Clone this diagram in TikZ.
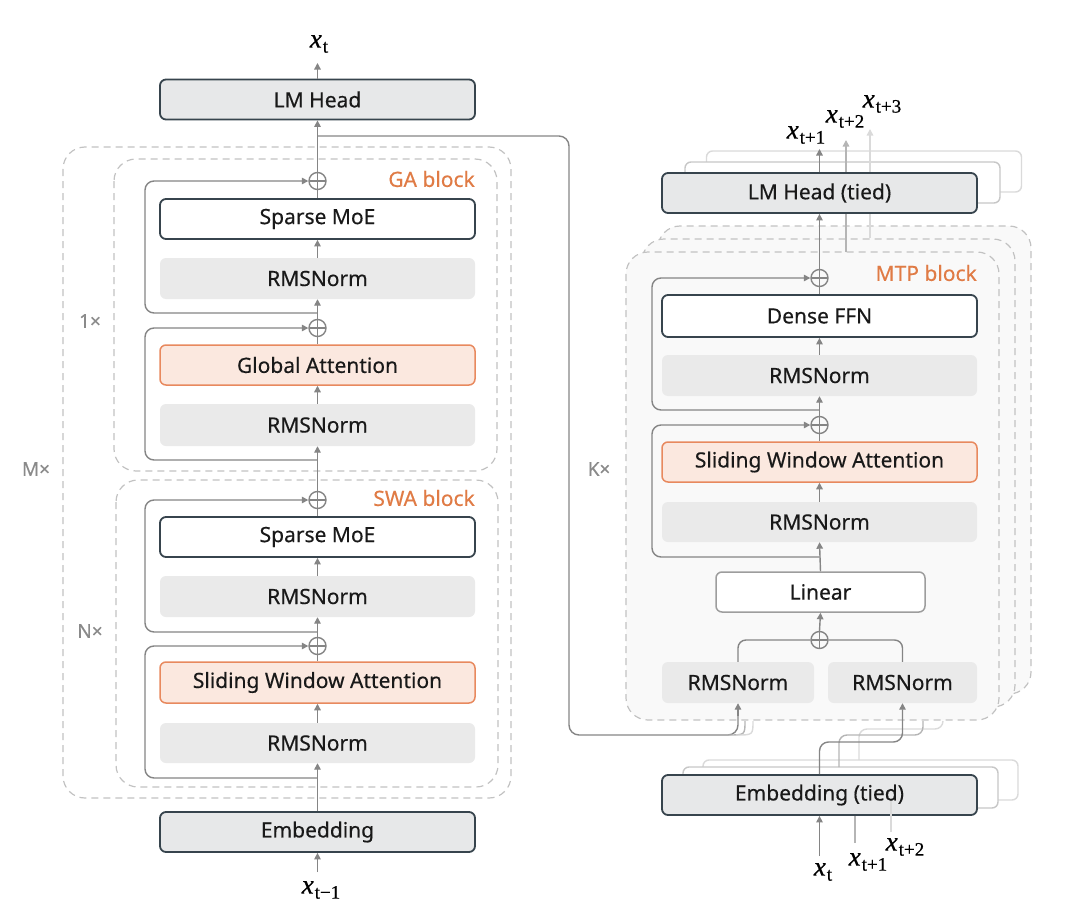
\documentclass[tikz,border=0pt]{standalone}
\usepackage[no-math]{fontspec}
\setmainfont[FakeBold=0.35]{Noto Sans}
\newfontfamily\mfont[FakeBold=0.6]{Liberation Serif}
\usetikzlibrary{arrows.meta}
\definecolor{dark}{HTML}{37444D}
\definecolor{boxgray}{HTML}{E7E8E9}
\definecolor{normgray}{HTML}{EAEAEA}
\definecolor{orb}{HTML}{E8895E}
\definecolor{orf}{HTML}{FBE8DF}
\definecolor{ortext}{HTML}{E07B45}
\definecolor{dashg}{HTML}{C2C2C2}
\definecolor{conng}{HTML}{858585}
\definecolor{labg}{HTML}{8A8A8A}
\definecolor{blockf}{HTML}{F9F9F9}
\definecolor{ghosta}{HTML}{B5B5B5}
\definecolor{ghostb}{HTML}{DADADA}
\newcommand\xlab[1]{\mbox{\mfont\fontsize{27}{30}\selectfont\itshape x\kern1pt\raisebox{-5pt}{\fontsize{19}{22}\selectfont\upshape #1}}}
\begin{document}
\begin{tikzpicture}[x=1pt,y=-1pt,
  box/.style={rounded corners=6pt, minimum width=315pt, minimum height=40pt, inner sep=0pt, font=\fontsize{21}{24}\selectfont, text=black!90},
  hbox/.style={box, draw=dark, fill=boxgray, line width=1.8pt},
  wbox/.style={box, draw=dark, fill=white, line width=1.8pt},
  nbox/.style={box, fill=normgray},
  obox/.style={box, draw=orb, fill=orf, line width=1.5pt},
  sbox/.style={box, draw=#1, fill=white, line width=1.4pt},
  blk/.style={draw=dashg, dash pattern=on 7pt off 5pt, line width=1.2pt, rounded corners=22pt},
  conn/.style={draw=conng, line width=1.4pt},
  arr/.style={conn, -{Triangle[length=6.5pt,width=6.5pt]}},
  ghost/.style={draw=#1, line width=1.4pt},
  garr/.style={draw=#1, line width=1.4pt, -{Triangle[length=6.5pt,width=6.5pt]}},
  plus/.style={circle, draw=conng, line width=1.4pt, minimum size=17pt, inner sep=0pt,
    path picture={\draw[conng, line width=1.4pt] (path picture bounding box.north) -- (path picture bounding box.south) (path picture bounding box.west) -- (path picture bounding box.east);}},
  blab/.style={font=\fontsize{21}{24}\selectfont, text=ortext, inner sep=0pt, anchor=east},
  rlab/.style={font=\fontsize{19}{22}\selectfont, text=labg, inner sep=0pt},
  mlab/.style={inner sep=0pt, text=black},
]
\useasboundingbox (0,0) rectangle (1080,918);

% ---------------- left column ----------------
\draw[blk] (63,147) rectangle (511,798);
\draw[blk, fill=white] (114,159) rectangle (497,471);
\draw[blk, fill=white] (116,480) rectangle (498,787);

\node[hbox] (lmhead) at (317.5,99.5) {LM Head};
\node[wbox] (moe1) at (317.5,219) {Sparse MoE};
\node[nbox, minimum height=41pt] (norm1) at (317.5,278.5) {RMSNorm};
\node[obox] (ga) at (317.5,365) {Global Attention};
\node[nbox, minimum height=42pt] (norm2) at (317.5,425) {RMSNorm};
\node[wbox] (moe2) at (317.5,537) {Sparse MoE};
\node[nbox, minimum height=41pt] (norm3) at (317.5,596.5) {RMSNorm};
\node[obox, minimum height=41pt] (swa) at (317.5,682.5) {Sliding Window Attention};
\node[nbox] (norm4) at (317.5,743) {RMSNorm};
\node[hbox] (emb) at (317.5,832) {Embedding};

\node[plus] (p1) at (317.5,181) {};
\node[plus] (p2) at (317.5,328) {};
\node[plus] (p3) at (317.5,500) {};
\node[plus] (p4) at (317.5,646) {};

\node[blab] (galab) at (475,179) {GA block};
\node[blab] (swalab) at (475,498) {SWA block};
\node[rlab] (onex) at (90,321) {1×};
\node[rlab] (mx) at (36,469) {M×};
\node[rlab] (nx) at (90,631) {N×};

\node[mlab] (xt) at (319,44) {\xlab{t}};
\node[mlab] (xtm) at (321,890) {\xlab{t−1}};
\coordinate (xttip) at (317.5,63);
\coordinate (xtmtail) at (317.5,872);

\draw[arr] (lmhead.north) -- (xttip);
\draw[arr] (p1.north) -- (lmhead.south);
\draw[conn] (moe1.north) -- (p1.south);
\draw[arr] (norm1.north) -- (moe1.south);
\draw[arr] (p2.north) -- (norm1.south);
\draw[conn] (ga.north) -- (p2.south);
\draw[arr] (norm2.north) -- (ga.south);
\draw[arr] (p3.north) -- (norm2.south);
\draw[conn] (moe2.north) -- (p3.south);
\draw[arr] (norm3.north) -- (moe2.south);
\draw[arr] (p4.north) -- (norm3.south);
\draw[conn] (swa.north) -- (p4.south);
\draw[arr] (norm4.north) -- (swa.south);
\draw[arr] (emb.north) -- (norm4.south);
\draw[arr] (xtmtail) -- (emb.south);

\coordinate (r1) at (317.5,313);
\coordinate (r2) at (317.5,460);
\coordinate (r3) at (317.5,632);
\coordinate (r4) at (317.5,778);
\draw[arr, rounded corners=9pt] (r1) -- (145,313) -- (145,181) -- (p1.west);
\draw[arr, rounded corners=9pt] (r2) -- (145,460) -- (145,328) -- (p2.west);
\draw[arr, rounded corners=9pt] (r3) -- (145,632) -- (145,500) -- (p3.west);
\draw[arr, rounded corners=9pt] (r4) -- (145,778) -- (145,646) -- (p4.west);

% ---------------- right column ----------------
\draw[blk, fill=blockf] (658,226) rectangle (1031,694);
\draw[blk, fill=blockf] (642,239) rectangle (1015,707);
\draw[blk, fill=blockf] (626,252) rectangle (999,720);

% stacked LM heads
\node[sbox=ghostb, minimum height=41pt] (lmt3) at (864,171.5) {};
\node[sbox=ghosta!75, minimum height=41pt] (lmt2) at (842.5,182.5) {};
\draw[garr=ghostb] (870,238) -- (870,129);
\draw[garr=ghosta] (846,252) -- (846,140);
\node[hbox] (lmt) at (819.5,193) {LM Head (tied)};

\node[wbox, minimum height=42pt] (ffn) at (819.5,316) {Dense FFN};
\node[nbox, minimum height=41pt] (rn1) at (819.5,375.5) {RMSNorm};
\node[obox] (swa2) at (819.5,462) {Sliding Window Attention};
\node[nbox] (rn2) at (819.5,522) {RMSNorm};
\node[box, draw=conng!80, fill=white, line width=1.5pt, minimum width=209pt] (lin) at (820.5,592) {Linear};
\node[nbox, minimum width=152pt, minimum height=41pt] (rnl) at (738,682.5) {RMSNorm};
\node[nbox, minimum width=149pt, minimum height=41pt] (rnr) at (902.5,682.5) {RMSNorm};

\node[plus] (p5) at (819.5,278) {};
\node[plus] (p6) at (819.5,425) {};
\node[plus] (p7) at (819.5,640) {};

\node[blab] (mtplab) at (977,273) {MTP block};
\node[rlab] (kx) at (599,469) {K×};

\draw[arr] (p5.north) -- (lmt.south);
\draw[conn] (ffn.north) -- (p5.south);
\draw[arr] (rn1.north) -- (ffn.south);
\draw[arr] (p6.north) -- (rn1.south);
\draw[conn] (swa2.north) -- (p6.south);
\draw[arr] (rn2.north) -- (swa2.south);
\draw[arr] (lin.north) -- (rn2.south);
\draw[arr] (p7.north) -- (lin.south);
\draw[conn, rounded corners=8pt] (rnl.north) |- (p7.west);
\draw[conn, rounded corners=8pt] (rnr.north) |- (p7.east);

\coordinate (r5) at (819.5,410);
\coordinate (r6) at (819.5,557);
\draw[arr, rounded corners=9pt] (r5) -- (652,410) -- (652,278) -- (p5.west);
\draw[arr, rounded corners=9pt] (r6) -- (652,557) -- (652,425) -- (p6.west);

% outputs
\node[mlab] (xo1) at (806,135) {\xlab{t+1}};
\node[mlab] (xo2) at (845,119) {\xlab{t+2}};
\node[mlab] (xo3) at (882,104) {\xlab{t+3}};
\coordinate (xo1tip) at (819.5,149);
\draw[arr] (lmt.north) -- (xo1tip);

% connection from main trunk to MTP
\coordinate (br) at (317.5,136);
\draw[conn, rounded corners=10pt] (br) -- (569,136) -- (569,735) -- (738,735) -- (738,712);
\draw[ghost=ghosta] (728,735) .. controls (745,735) .. (745,721);
\draw[ghost=ghostb] (736,735) .. controls (753,735) .. (753,721);
\draw[arr] (738,716) -- (rnl.south);

% stacked embeddings
\node[sbox=ghostb, minimum height=40pt] (embt3) at (860.5,780) {};
\node[sbox=ghosta!75, minimum height=41pt] (embt2) at (840.5,787.5) {};
\draw[ghost=ghostb, rounded corners=8pt] (859,760) -- (859,729) -- (943,729) -- (943,721);
\draw[ghost=ghosta, rounded corners=8pt] (839,767) -- (839,735) -- (923,735) -- (923,721);
\node[hbox] (embt) at (819.5,795) {Embedding (tied)};
\draw[arr, rounded corners=9pt] (embt.north) -- (819.5,742) -- (902.5,742) -- (rnr.south);

% inputs
\node[mlab] (xi0) at (823,872) {\xlab{t}};
\node[mlab] (xi1) at (868,862) {\xlab{t+1}};
\node[mlab] (xi2) at (905,847) {\xlab{t+2}};
\coordinate (xi0tail) at (819.5,856);
\draw[arr] (xi0tail) -- (embt.south);
\draw[ghost=ghosta] (855,843) -- (855,816);
\draw[ghost=ghostb] (891,832) -- (891,801);
\end{tikzpicture}
\end{document}
